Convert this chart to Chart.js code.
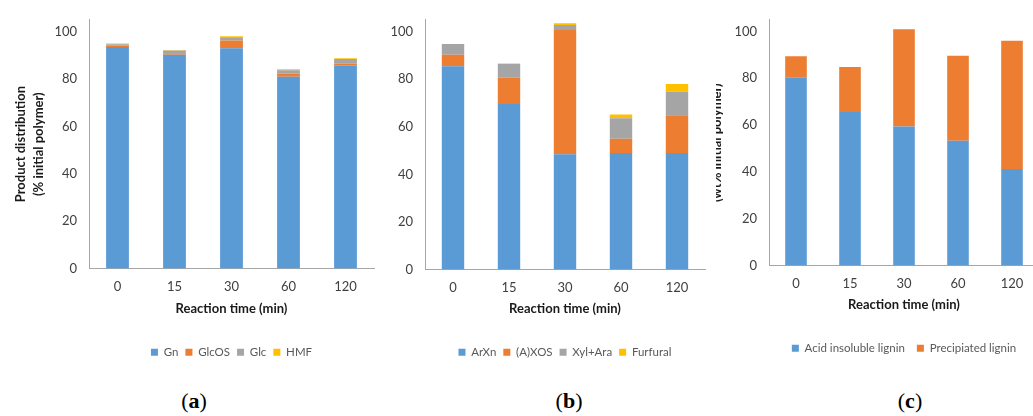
<!DOCTYPE html>
<html><head><meta charset="utf-8">
<script src="https://cdn.jsdelivr.net/npm/chart.js@4.4.1/dist/chart.umd.min.js"></script>
<style>
html,body{margin:0;padding:0;background:#fff;width:1033px;height:416px;overflow:hidden;position:relative;}
canvas{position:absolute;top:0;}
.lab{position:absolute;font-family:"Liberation Serif",serif;font-size:22px;color:#000;transform:translateX(-50%);top:388px;white-space:nowrap;}
#wc{position:absolute;left:716px;top:0;width:317px;height:416px;overflow:hidden;}
</style></head><body>
<canvas id="ca" width="380" height="380" style="left:0px"></canvas>
<canvas id="cb" width="365" height="380" style="left:345px"></canvas>
<div id="wc"><canvas id="cc" width="340" height="380" style="left:-10px"></canvas></div>
<div class="lab" style="left:194px">(<b>a</b>)</div>
<div class="lab" style="left:569px">(<b>b</b>)</div>
<div class="lab" style="left:910px">(<b>c</b>)</div>
<script>
// ---- data ----
const times = ['0', '15', '30', '60', '120'];
const yTicks = [0, 20, 40, 60, 80, 100];
// panel (a)
const gn      = [93.5, 90.2, 93.0, 81.0, 85.6];
const glcos   = [0.5, 0.7, 3.3, 1.3, 0.9];
const glc     = [0.7, 1.1, 1.3, 1.4, 1.9];
const hmf     = [0.3, 0.2, 0.5, 0.4, 0.4];
// panel (b)
const arxn     = [85.5, 69.6, 48.5, 49.0, 49.0];
const axos     = [4.8, 11.0, 52.2, 6.0, 15.9];
const xylAra   = [4.5, 5.8, 2.1, 8.6, 9.8];
const furfural = [0, 0.2, 0.8, 1.6, 3.3];
// panel (c)
const acidInsoluble = [80.2, 65.6, 59.4, 53.3, 41.2];
const precipitated  = [9.2, 19.2, 41.6, 36.3, 54.8];

const BLUE = '#5B9BD5', ORANGE = '#ED7D31', GRAY = '#A5A5A5', YELLOW = '#FFC000';

Chart.defaults.font.family = 'Lato, "Open Sans", sans-serif';
Chart.defaults.color = '#404040';

function ds(label, data, color) {
  return {
    label, data, backgroundColor: color, borderWidth: 0,
    categoryPercentage: 1, barPercentage: 0.4
  };
}

function makeChart(id, datasets, cfg) {
  return new Chart(document.getElementById(id), {
    type: 'bar',
    data: { labels: times, datasets },
    options: {
      responsive: false, animation: false,
      layout: { padding: cfg.padding },
      plugins: {
        tooltip: { enabled: false },
        legend: {
          position: 'bottom', fullSize: false,
          labels: { boxWidth: 7, boxHeight: 7, padding: cfg.legendPad, color: '#595959', font: { size: 11.5 } }
        }
      },
      scales: {
        x: {
          stacked: true,
          grid: { display: false, drawTicks: false },
          border: { display: true, color: '#A6A6A6', width: 1 },
          ticks: { padding: 11, color: '#404040', font: { size: 13 } },
          title: { display: true, text: 'Reaction time (min)', color: '#1a1a1a',
                   font: { size: 13, weight: 'bold' }, padding: { top: 0, bottom: cfg.xTitlePad } },
          afterFit: s => { s.height = cfg.xH; }
        },
        y: {
          stacked: true, min: 0, max: 105,
          grid: { display: false, drawTicks: false },
          border: { display: true, color: '#A6A6A6', width: 1 },
          ticks: { padding: 12, color: '#404040', font: { size: 13 } },
          afterBuildTicks: s => { s.ticks = yTicks.map(v => ({ value: v })); },
          title: cfg.yTitle,
          afterFit: s => { s.width = cfg.yW; }
        }
      }
    }
  });
}

makeChart('ca', [
  ds('Gn', gn, BLUE), ds('GlcOS', glcos, ORANGE), ds('Glc', glc, GRAY), ds('HMF', hmf, YELLOW)
], {
  padding: { top: 14, right: 6, left: 0, bottom: 12 },
  xH: 71, xTitlePad: 23, yW: 89, legendPad: 7,
  yTitle: { display: true, text: ['Product distribution', '(% initial polymer)'], color: '#1a1a1a',
            font: { size: 13, weight: 'bold', lineHeight: 1.45 }, padding: { top: 11, bottom: 0 } }
});

makeChart('cb', [
  ds('ArXn', arxn, BLUE), ds('(A)XOS', axos, ORANGE), ds('Xyl+Ara', xylAra, GRAY), ds('Furfural', furfural, YELLOW)
], {
  padding: { top: 15, right: 5, left: 0, bottom: 12 },
  xH: 70, xTitlePad: 23, yW: 80, legendPad: 7,
  yTitle: { display: false }
});

makeChart('cc', [
  ds('Acid insoluble lignin', acidInsoluble, BLUE), ds('Precipiated lignin', precipitated, ORANGE)
], {
  padding: { top: 13, right: 7, left: 0, bottom: 16 },
  xH: 65, xTitlePad: 18, yW: 63, legendPad: 12,
  yTitle: { display: true, text: '(wt% initial polymer)', color: '#1a1a1a',
            font: { size: 13, weight: 'bold', lineHeight: 1.2 }, padding: { top: 3, bottom: 0 } }
});
</script>
</body></html>
